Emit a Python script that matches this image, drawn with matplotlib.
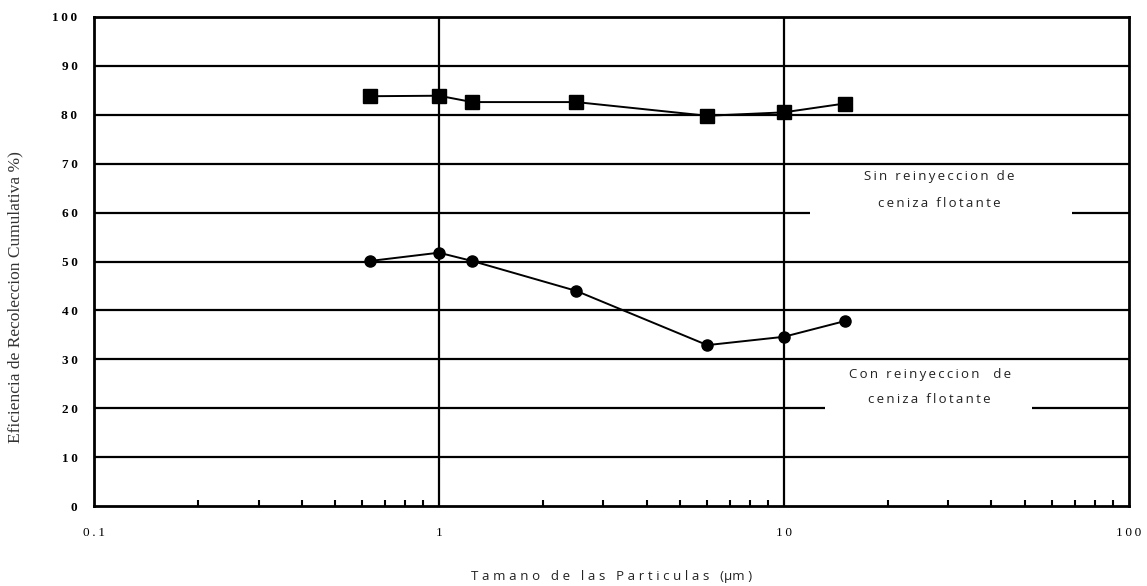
import matplotlib
matplotlib.use("Agg")
import matplotlib.pyplot as plt
from matplotlib.patches import Rectangle
from matplotlib.ticker import FixedLocator, NullFormatter

# tamano de particula (um) y eficiencia acumulada (%)
tamano = [0.63, 1.0, 1.25, 2.5, 6.0, 10.0, 15.0]
sin_reiny = [83.8, 83.9, 82.6, 82.6, 79.8, 80.5, 82.3]
con_reiny = [50.1, 51.8, 50.1, 44.0, 32.9, 34.6, 37.8]

x_ticks = [0.1, 1, 10, 100]
x_labels = ["0.1", "1", "10", "100"]
y_ticks = list(range(0, 101, 10))


def espaciar(s, sep="\u2009"):
    return sep.join(s)


fig = plt.figure(figsize=(11.47, 5.86), dpi=100)
ax = fig.add_axes([0.082, 0.1365, 0.902, 0.8345])

serif = ["Liberation Serif", "DejaVu Serif"]
sans = ["Open Sans", "DejaVu Sans"]

ax.plot(tamano, sin_reiny, color="black", lw=1.4, marker="s", ms=9.5, zorder=4)
ax.plot(tamano, con_reiny, color="black", lw=1.4, marker="o", ms=8, zorder=4)

ax.set_xscale("log")
ax.set_xlim(0.1, 100)
ax.set_ylim(0, 100)

ax.set_xticks(x_ticks)
ax.set_xticklabels([espaciar(t) for t in x_labels], family=serif, fontsize=9.5)
ax.xaxis.set_minor_locator(FixedLocator([m * d for d in (0.1, 1, 10) for m in range(2, 10)]))
ax.xaxis.set_minor_formatter(NullFormatter())
ax.tick_params(axis="x", which="minor", direction="in", length=4, width=1.5)
ax.tick_params(axis="x", which="major", length=0, pad=15)

ax.set_yticks(y_ticks)
ax.set_yticklabels([espaciar(str(v)) for v in y_ticks], family=serif, fontsize=9.5,
                   fontweight="bold")
ax.tick_params(axis="y", length=0, pad=12)

# cuadricula
for v in y_ticks[1:-1]:
    ax.axhline(v, color="black", lw=1.6, zorder=1)
for v in (1, 10):
    ax.axvline(v, color="black", lw=1.6, zorder=1)
for s in ax.spines.values():
    s.set_linewidth(2)
    s.set_zorder(5)

# cajas blancas detras de las etiquetas
ax.add_patch(Rectangle((11.9, 58.1), 68.4 - 11.9, 11.0, facecolor="white",
                       edgecolor="none", zorder=2))
ax.add_patch(Rectangle((13.2, 17.6), 52.4 - 13.2, 11.2, facecolor="white",
                       edgecolor="none", zorder=2))

lbl = dict(ha="center", va="center", fontsize=9.5, family=sans, color="#222222", zorder=3)
ax.text(28.3, 67.3, espaciar("Sin reinyeccion de"), **lbl)
ax.text(28.3, 61.8, espaciar("ceniza flotante"), **lbl)
ax.text(26.5, 26.8, espaciar("Con reinyeccion  de"), **lbl)
ax.text(26.5, 21.7, espaciar("ceniza flotante"), **lbl)

sep_x = "\u2009\u200a"
ax.set_xlabel(espaciar("Tamano de las Particulas (", sep_x) + "μ" + espaciar("m)", sep_x),
              family=sans, fontsize=9.5, color="#222222")
ax.xaxis.set_label_coords(0.5, -0.131)
ax.set_ylabel("Eficiencia de Recoleccion Cumulativa %)", family=serif, fontsize=12.5,
              color="#333333")
ax.yaxis.set_label_coords(-0.0686, 0.427)

fig.savefig("out.png", dpi=100)
